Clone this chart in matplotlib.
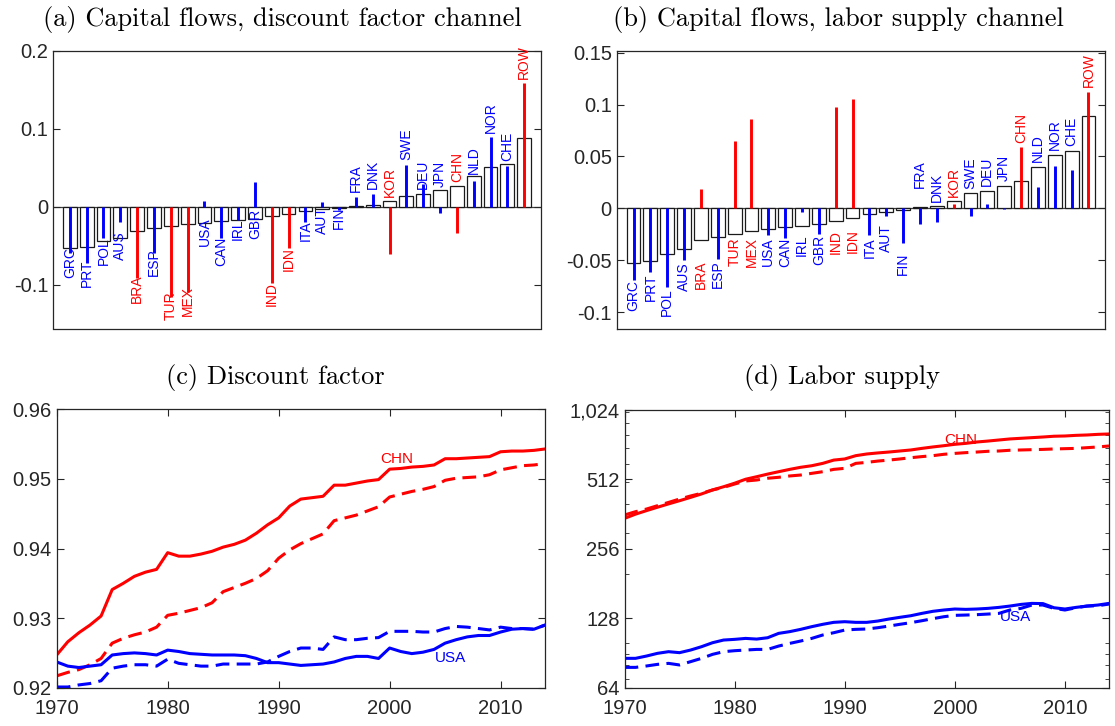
import matplotlib
matplotlib.use('Agg')
import matplotlib.pyplot as plt
import numpy as np
from matplotlib.ticker import FixedLocator, NullFormatter

# ---------------- data ----------------
countries = ['GRC', 'PRT', 'POL', 'AUS', 'BRA', 'ESP', 'TUR', 'MEX', 'USA', 'CAN',
             'IRL', 'GBR', 'IND', 'IDN', 'ITA', 'AUT', 'FIN', 'FRA', 'DNK', 'KOR',
             'SWE', 'DEU', 'JPN', 'CHN', 'NLD', 'NOR', 'CHE', 'ROW']
emerging = ['BRA', 'TUR', 'MEX', 'IND', 'IDN', 'KOR', 'CHN', 'ROW']

capital_flows = [-0.0525, -0.051, -0.0438, -0.0393, -0.0305, -0.027, -0.0248, -0.0214,
                 -0.0201, -0.0177, -0.0170, -0.0150, -0.0118, -0.0094, -0.0056, -0.0030,
                 -0.0017, 0.0010, 0.0022, 0.0070, 0.0145, 0.0170, 0.0215, 0.0265,
                 0.0400, 0.0515, 0.0550, 0.0885]

discount_channel = [-0.059, -0.072, -0.040, -0.019, -0.091, -0.059, -0.115, -0.109,
                    0.007, -0.040, -0.017, 0.032, -0.098, -0.053, -0.019, 0.006,
                    -0.004, 0.013, 0.016, -0.060, 0.054, 0.029, -0.008, -0.033,
                    0.033, 0.090, 0.053, 0.159]

labor_channel = [-0.069, -0.061, -0.0755, -0.050, 0.0185, -0.0484, 0.0653, 0.0864,
                 -0.026, -0.028, -0.003, -0.025, 0.098, 0.105, -0.026, -0.007,
                 -0.0334, -0.0145, -0.0135, 0.004, -0.007, 0.004, -0.001, 0.0588,
                 0.021, 0.041, 0.037, 0.1125]

# where each country label starts (data units)
label_at_a = [-0.051, -0.068, -0.039, -0.032, -0.087, -0.053, -0.109, -0.102,
              -0.0128, -0.038, -0.015, -0.003, -0.096, -0.051, -0.017, 0.001,
              0.0, 0.019, 0.023, 0.013, 0.060, 0.0235, 0.0256, 0.032,
              0.0427, 0.095, 0.059, 0.1645]
label_at_b = [-0.069, -0.0628, -0.0771, -0.0516, -0.050, -0.050, -0.0277, -0.0277,
              -0.0277, -0.028, -0.025, -0.025, -0.021, -0.020, -0.028, -0.015,
              -0.0424, 0.020, 0.006, 0.0106, 0.0187, 0.022, 0.026, 0.0627,
              0.045, 0.056, 0.060, 0.117]

years = list(range(1970, 2015))

beta_chn = [0.9247, 0.9266, 0.9279, 0.9290, 0.9303, 0.9341, 0.9350, 0.9360, 0.9366, 0.9370,
            0.9394, 0.9389, 0.9389, 0.9392, 0.9396, 0.9402, 0.9406, 0.9412, 0.9422, 0.9434,
            0.9444, 0.9461, 0.9471, 0.9473, 0.9475, 0.9491, 0.9491, 0.9494, 0.9497, 0.9499,
            0.9514, 0.9515, 0.9517, 0.9518, 0.9520, 0.9529, 0.9529, 0.9530, 0.9531, 0.9532,
            0.9539, 0.9540, 0.9540, 0.9541, 0.9543]
beta_chn_cf = [0.9217, 0.9222, 0.9226, 0.9233, 0.9242, 0.9264, 0.9271, 0.9276, 0.9280, 0.9287,
               0.9304, 0.9307, 0.9311, 0.9315, 0.9322, 0.9338, 0.9344, 0.9350, 0.9357, 0.9368,
               0.9386, 0.9398, 0.9407, 0.9414, 0.9421, 0.9440, 0.9444, 0.9448, 0.9454, 0.9460,
               0.9474, 0.9478, 0.9482, 0.9485, 0.9489, 0.9498, 0.9501, 0.9502, 0.9503, 0.9506,
               0.9513, 0.9516, 0.9519, 0.9520, 0.9522]
beta_usa = [0.9237, 0.9231, 0.9229, 0.9231, 0.9233, 0.9247, 0.9249, 0.9250, 0.9249, 0.9247,
            0.9254, 0.9252, 0.9249, 0.9248, 0.9247, 0.9247, 0.9247, 0.9246, 0.9242, 0.9236,
            0.9236, 0.9234, 0.9232, 0.9233, 0.9234, 0.9237, 0.9242, 0.9245, 0.9245, 0.9242,
            0.9257, 0.9252, 0.9249, 0.9251, 0.9255, 0.9264, 0.9269, 0.9273, 0.9275, 0.9275,
            0.9280, 0.9284, 0.9285, 0.9284, 0.9290]
beta_usa_cf = [0.9201, 0.9201, 0.9204, 0.9206, 0.9210, 0.9228, 0.9231, 0.9233, 0.9233, 0.9231,
               0.9241, 0.9235, 0.9233, 0.9231, 0.9231, 0.9234, 0.9234, 0.9234, 0.9234, 0.9237,
               0.9245, 0.9252, 0.9257, 0.9257, 0.9255, 0.9273, 0.9269, 0.9269, 0.9271, 0.9272,
               0.9281, 0.9281, 0.9281, 0.9280, 0.9280, 0.9285, 0.9288, 0.9287, 0.9285, 0.9283,
               0.9287, 0.9285, 0.9285, 0.9284, 0.9290]

labor_chn = [347, 362, 375, 388, 401, 414, 428, 443, 461, 476,
             493, 513, 526, 540, 553, 566, 578, 587, 601, 621,
             628, 649, 660, 667, 673, 680, 687, 698, 708, 717,
             727, 734, 744, 751, 759, 767, 772, 777, 782, 788,
             790, 795, 798, 803, 806]
labor_chn_cf = [359, 371, 381, 394, 407, 421, 434, 446, 461, 473,
                489, 504, 509, 518, 523, 530, 535, 544, 553, 566,
                572, 601, 607, 615, 621, 628, 636, 643, 649, 658,
                664, 669, 673, 678, 680, 685, 687, 689, 691, 694,
                696, 698, 703, 708, 715]
labor_usa = [85.8, 85.8, 87.8, 90.2, 91.7, 90.8, 93.2, 96.4, 100.3, 103.0,
             103.7, 104.7, 104.0, 105.4, 110.1, 112.0, 114.6, 117.7, 120.5, 122.9,
             123.7, 122.9, 122.9, 124.5, 127.0, 129.2, 131.3, 134.4, 137.2, 139.0,
             140.4, 139.9, 140.4, 141.3, 142.7, 144.6, 147.0, 148.5, 148.2, 142.2,
             140.4, 142.7, 144.6, 146.1, 148.5]
labor_usa_cf = [78.4, 78.4, 79.5, 80.8, 81.6, 80.3, 83.0, 85.8, 89.3, 91.7,
                92.6, 93.2, 93.8, 93.8, 97.0, 99.6, 102.0, 104.7, 108.3, 110.8,
                113.8, 114.6, 115.0, 116.5, 118.4, 120.5, 122.5, 124.9, 127.5, 130.0,
                131.8, 132.2, 132.7, 133.5, 134.4, 139.0, 141.3, 146.1, 146.1, 141.3,
                139.0, 142.2, 144.6, 145.1, 147.5]

yticks_a = [-0.1, 0, 0.1, 0.2]
yticklabels_a = ['-0.1', '0', '0.1', '0.2']
yticks_b = [-0.1, -0.05, 0, 0.05, 0.1, 0.15]
yticklabels_b = ['-0.1', '-0.05', '0', '0.05', '0.1', '0.15']
yticks_c = [0.92, 0.93, 0.94, 0.95, 0.96]
yticklabels_c = ['0.92', '0.93', '0.94', '0.95', '0.96']
yticks_d = [64, 128, 256, 512, 1024]
yticklabels_d = ['64', '128', '256', '512', '1,024']
yminor_d = [70, 80, 90, 100, 200, 300, 400, 500, 600, 700, 800, 900, 1000]
xticks_years = [1970, 1980, 1990, 2000, 2010]
xticklabels_years = ['1970', '1980', '1990', '2000', '2010']

titles = ['(a) Capital flows, discount factor channel',
          '(b) Capital flows, labor supply channel',
          '(c) Discount factor',
          '(d) Labor supply']

# ---------------- style ----------------
W, H = 1115, 726
fig = plt.figure(figsize=(W / 100, H / 100), dpi=100)
plt.rcParams['font.family'] = ['Liberation Sans', 'DejaVu Sans']

AXC = '#262626'
BLUE = '#0000ff'
RED = '#ff0000'
TICK_FS = 14.5
DASH = (0, (4.5, 2.4))


def px_axes(l, t, r, b):
    return fig.add_axes([l / W, 1 - b / H, (r - l) / W, (b - t) / H])


def style_axes(ax):
    for s in ax.spines.values():
        s.set_color(AXC)
        s.set_linewidth(0.9)
    ax.tick_params(direction='in', length=5, width=0.8, color=AXC,
                   labelsize=TICK_FS, labelcolor=AXC, right=True, top=True)
    ax.tick_params(which='minor', direction='in', length=3, width=0.6, color=AXC,
                   right=True, top=True)
    ax.tick_params(axis='x', pad=8)


def bar_panel(ax, channel, label_at, ylim, yt, ytl):
    x = np.arange(1, len(countries) + 1)
    ax.bar(x, capital_flows, width=0.82, facecolor='white', edgecolor='#1a1a1a',
           linewidth=0.9, zorder=2)
    ax.axhline(0, color='#404040', linewidth=0.9, zorder=1)
    cols = [RED if c in emerging else BLUE for c in countries]
    ax.vlines(x, 0, channel, colors=cols, linewidth=2.1, zorder=3)
    for xi, c, lv, col, bv in zip(x, countries, label_at, cols, capital_flows):
        va = 'top' if bv < 0 else 'bottom'
        ax.text(xi, lv, c, rotation=90, ha='center', va=va, color=col,
                fontsize=10, zorder=4)
    ax.set_xlim(0, 29)
    ax.set_ylim(*ylim)
    ax.set_xticks([])
    ax.set_yticks(yt)
    ax.set_yticklabels(ytl)
    style_axes(ax)
    ax.tick_params(top=False, bottom=False)


ax_a = px_axes(53, 51, 541, 328.5)
bar_panel(ax_a, discount_channel, label_at_a, (-0.156, 0.2), yticks_a, yticklabels_a)

ax_b = px_axes(616.7, 51, 1105.3, 328.5)
bar_panel(ax_b, labor_channel, label_at_b, (-0.1155, 0.1515), yticks_b, yticklabels_b)

# (c) discount factor
ax_c = px_axes(56.7, 409.3, 545, 687.7)
ax_c.plot(years, beta_chn, color=RED, linewidth=2.2)
ax_c.plot(years, beta_chn_cf, color=RED, linewidth=2.2, linestyle=DASH)
ax_c.plot(years, beta_usa, color=BLUE, linewidth=2.2)
ax_c.plot(years, beta_usa_cf, color=BLUE, linewidth=2.2, linestyle=DASH)
ax_c.text(2000.6, 0.9528, 'CHN', color=RED, fontsize=11, ha='center', va='center')
ax_c.text(2005.5, 0.9243, 'USA', color=BLUE, fontsize=11, ha='center', va='center')
ax_c.set_xlim(1970, 2014)
ax_c.set_ylim(0.92, 0.96)
ax_c.set_xticks(xticks_years)
ax_c.set_xticklabels(xticklabels_years)
ax_c.set_yticks(yticks_c)
ax_c.set_yticklabels(yticklabels_c)
style_axes(ax_c)

# (d) labor supply
ax_d = px_axes(624.5, 410, 1109, 687.7)
ax_d.set_yscale('log', base=2)
ax_d.plot(years, labor_chn, color=RED, linewidth=2.2)
ax_d.plot(years, labor_chn_cf, color=RED, linewidth=2.2, linestyle=DASH)
ax_d.plot(years, labor_usa, color=BLUE, linewidth=2.2)
ax_d.plot(years, labor_usa_cf, color=BLUE, linewidth=2.2, linestyle=DASH)
ax_d.text(2000.5, 760, 'CHN', color=RED, fontsize=11, ha='center', va='center')
ax_d.text(2005.5, 130, 'USA', color=BLUE, fontsize=11, ha='center', va='center')
ax_d.set_xlim(1970, 2014)
ax_d.set_ylim(64, 1024)
ax_d.set_xticks(xticks_years)
ax_d.set_xticklabels(xticklabels_years)
ax_d.yaxis.set_major_locator(FixedLocator(yticks_d))
ax_d.set_yticklabels(yticklabels_d)
ax_d.yaxis.set_minor_locator(FixedLocator(yminor_d))
ax_d.yaxis.set_minor_formatter(NullFormatter())
style_axes(ax_d)

# titles (serif, LaTeX-like)
title_pos = [(282, 26), (838, 26), (275, 384), (842, 384)]
for t, (cx, by) in zip(titles, title_pos):
    fig.text(cx / W, 1 - by / H, t, ha='center', va='baseline',
             fontfamily='cmr10', fontsize=19, color='black')

fig.savefig('out.png', dpi=100)
